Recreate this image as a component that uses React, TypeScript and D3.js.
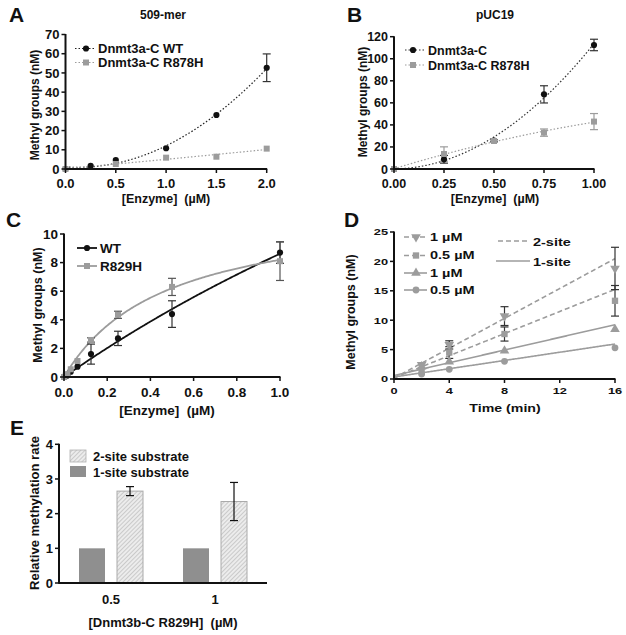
import React from "react";
import * as d3 from "d3";

const FONT = "'Liberation Sans', Arial, Helvetica, sans-serif";
const BLACK = "#111111";
const GRAY = "#9c9c9c";
const DGRAY = "#8f8f8f";

// ---------- Panel A: 509-mer ----------
const aWT_x = [0, 0.25, 0.5, 1.0, 1.5, 2.0];
const aWT_y = [0, 1.7, 4.7, 10.8, 28.1, 52.7];
const aWT_e = [0, 0, 0, 0, 0, 7.2];
const aR_x = [0, 0.5, 1.0, 1.5, 2.0];
const aR_y = [0, 2.6, 5.9, 6.4, 10.6];
const aR_e = [0, 0, 0, 0, 0];
const aXTicks = [0, 0.5, 1.0, 1.5, 2.0];
const aYTicks = [0, 10, 20, 30, 40, 50, 60, 70];

// ---------- Panel B: pUC19 ----------
const bX = [0, 0.25, 0.5, 0.75, 1.0];
const bWT_y = [0, 8.8, 25.7, 67.7, 112.5];
const bWT_e = [0, 3.5, 1, 7.8, 5.2];
const bR_y = [0, 13.6, 25.4, 33, 43];
const bR_e = [0, 6.5, 1, 3.3, 7.3];
const bXTicks = [0, 0.25, 0.5, 0.75, 1.0];
const bYTicks = [0, 20, 40, 60, 80, 100, 120];

// ---------- Panel C ----------
const cX = [0, 0.0078, 0.0156, 0.03125, 0.0625, 0.125, 0.25, 0.5, 1.0];
const cWT_y = [0, 0.05, 0.1, 0.37, 0.72, 1.6, 2.7, 4.4, 8.7];
const cWT_e = [0, 0, 0, 0, 0, 0.7, 0.5, 0.93, 0.75];
const cR_y = [0, 0.1, 0.2, 0.54, 1.12, 2.59, 4.35, 6.3, 8.1];
const cR_e = [0, 0, 0, 0, 0, 0.15, 0.25, 0.6, 1.35];
const cXTicks = [0, 0.2, 0.4, 0.6, 0.8, 1.0];
const cYTicks = [0, 2, 4, 6, 8, 10];

// ---------- Panel D ----------
const dX = [2, 4, 8, 16];
const d2s1_y = [2.4, 5.8, 10.7, 18.8];
const d2s1_e = [0, 0.7, 1.6, 3.6];
const d2s05_y = [1.25, 4.5, 7.65, 13.3];
const d2s05_e = [0, 1.0, 1.2, 2.6];
const d1s1_y = [2.1, 2.95, 4.8, 8.45];
const d1s1_e = [0, 0, 0, 0];
const d1s05_y = [0.85, 1.65, 3.0, 5.3];
const d1s05_e = [0, 0, 0, 0];
// fitted lines: [intercept, slope]
const d2s1_fit = [0.15, 1.27];
const d2s05_fit = [0.2, 0.94];
const d1s1_fit = [0.6, 0.54];
const d1s05_fit = [0.35, 0.35];
const dXTicks = [0, 4, 8, 12, 16];
const dYTicks = [0, 5, 10, 15, 20, 25];

// ---------- Panel E ----------
const eGroups = ["0.5", "1"];
const eSubs = ["1-site", "2-site"];
const eOne = [1, 1];
const eTwo = [2.65, 2.35];
const eTwoErr = [0.13, 0.55];
const eYTicks = [0, 1, 2, 3, 4];

// ---------- fitting helpers ----------
function polyfit2(xs: number[], ys: number[]) {
  const S = (f: (x: number, y: number) => number) => d3.sum(xs.map((x, i) => f(x, ys[i])));
  const n = xs.length;
  const s1 = S((x) => x), s2 = S((x) => x * x), s3 = S((x) => x ** 3), s4 = S((x) => x ** 4);
  const t0 = S((_, y) => y), t1 = S((x, y) => x * y), t2 = S((x, y) => x * x * y);
  const M = [
    [n, s1, s2, t0],
    [s1, s2, s3, t1],
    [s2, s3, s4, t2],
  ];
  for (let i = 0; i < 3; i++) {
    let p = i;
    for (let r = i + 1; r < 3; r++) if (Math.abs(M[r][i]) > Math.abs(M[p][i])) p = r;
    [M[i], M[p]] = [M[p], M[i]];
    for (let r = 0; r < 3; r++) {
      if (r === i) continue;
      const f = M[r][i] / M[i][i];
      for (let c = i; c < 4; c++) M[r][c] -= f * M[i][c];
    }
  }
  const c0 = M[0][3] / M[0][0], c1 = M[1][3] / M[1][1], c2 = M[2][3] / M[2][2];
  return (x: number) => c0 + c1 * x + c2 * x * x;
}

function hyperfit(xs: number[], ys: number[]) {
  let best = { K: 1, V: 1, sse: Infinity };
  for (let K = 0.01; K <= 30; K += 0.005) {
    const f = xs.map((x) => x / (K + x));
    const V = d3.sum(f.map((v, i) => v * ys[i])) / d3.sum(f.map((v) => v * v));
    const sse = d3.sum(f.map((v, i) => (V * v - ys[i]) ** 2));
    if (sse < best.sse) best = { K, V, sse };
  }
  return (x: number) => (best.V * x) / (best.K + x);
}

const linFit = (p: number[]) => (x: number) => p[0] + p[1] * x;

// ---------- drawing helpers ----------
type Series = {
  xs: number[];
  ys: number[];
  es: number[];
  color: string;
  errColor: string;
  shape: d3.SymbolType;
  size: number;
  fit: (x: number) => number;
  fitDash: string;
  fitColor: string;
  fitWidth: number;
  label: string;
};

const symPath = (t: d3.SymbolType, s: number) => d3.symbol().type(t).size(s)() as string;

type Txt = { x: number; y: number; text: string; size: number; anchor?: string; sx?: number; rotate?: boolean; weight?: string };
function T({ x, y, text, size, anchor = "start", sx = 1, rotate = false, weight = "bold" }: Txt) {
  const tr = `translate(${x},${y})${rotate ? " rotate(-90)" : ""} scale(${sx},1)`;
  return (
    <text transform={tr} fontSize={size} fontFamily={FONT} fontWeight={weight} textAnchor={anchor as any} fill={BLACK} style={{ whiteSpace: "pre" }}>
      {text}
    </text>
  );
}

type PanelProps = {
  letter: string;
  letterX: number;
  letterY: number;
  title?: string;
  titleX?: number;
  titleY?: number;
  left: number;
  right: number;
  top: number;
  bottom: number;
  xDomain: [number, number];
  yDomain: [number, number];
  xTicks: number[];
  yTicks: number[];
  xFmt: (v: number) => string;
  yFmt: (v: number) => string;
  tickFont: number;
  tickSx?: number;
  xLabelDy: number;
  xTitle: string;
  xTitleX: number;
  xTitleY: number;
  xTitleSize: number;
  yTitle: string;
  yTitleX: number;
  yTitleY: number;
  yTitleSize: number;
  series: Series[];
  legend: { x0: number; x1: number; mx: number; tx: number; ys: number[]; size: number; sx?: number; lineFor: boolean[] };
  extra?: React.ReactNode;
};

function XYPanel(p: PanelProps) {
  const xs = d3.scaleLinear().domain(p.xDomain).range([p.left, p.right]);
  const ys = d3.scaleLinear().domain(p.yDomain).range([p.bottom, p.top]);
  const tl = 4;
  return (
    <g>
      <text x={p.letterX} y={p.letterY} fontSize={21} fontFamily={FONT} fontWeight="bold" fill={BLACK}>
        {p.letter}
      </text>
      {p.title && <T x={p.titleX!} y={p.titleY!} text={p.title} size={12} anchor="middle" />}
      {/* fits */}
      {p.series.map((s, i) => {
        const pts = d3.range(0, 201).map((k) => p.xDomain[0] + ((p.xDomain[1] - p.xDomain[0]) * k) / 200);
        const path = d3
          .line<number>()
          .x((d) => xs(d))
          .y((d) => ys(s.fit(d)))(pts) as string;
        return (
          <path key={"f" + i} d={path} fill="none" stroke={s.fitColor} strokeWidth={s.fitWidth} strokeDasharray={s.fitDash} />
        );
      })}
      {/* error bars */}
      {p.series.map((s, i) =>
        s.xs.map((x, j) =>
          s.es[j] > 0 ? (
            <g key={`e${i}-${j}`} stroke={s.errColor} strokeWidth={1.2}>
              <line x1={xs(x)} x2={xs(x)} y1={ys(s.ys[j] - s.es[j])} y2={ys(s.ys[j] + s.es[j])} />
              <line x1={xs(x) - 4} x2={xs(x) + 4} y1={ys(s.ys[j] + s.es[j])} y2={ys(s.ys[j] + s.es[j])} />
              <line x1={xs(x) - 4} x2={xs(x) + 4} y1={ys(s.ys[j] - s.es[j])} y2={ys(s.ys[j] - s.es[j])} />
            </g>
          ) : null
        )
      )}
      {/* markers */}
      {p.series.map((s, i) =>
        s.xs.map((x, j) => (
          <path key={`m${i}-${j}`} d={symPath(s.shape, s.size)} transform={`translate(${xs(x)},${ys(s.ys[j])})`} fill={s.color} />
        ))
      )}
      {/* axes */}
      <line x1={p.left} x2={p.left} y1={p.bottom + 0.5} y2={p.top - 0.5} stroke={BLACK} strokeWidth={2} />
      <line x1={p.left - 0.5} x2={p.right + 0.5} y1={p.bottom} y2={p.bottom} stroke={BLACK} strokeWidth={2} />
      {p.yTicks.map((v) => (
        <g key={"yt" + v}>
          <line x1={p.left - tl} x2={p.left} y1={ys(v)} y2={ys(v)} stroke={BLACK} strokeWidth={1.5} />
          <T x={p.left - tl - 2} y={ys(v) + p.tickFont * 0.36} text={p.yFmt(v)} size={p.tickFont} anchor="end" sx={p.tickSx ?? 1} />
        </g>
      ))}
      {p.xTicks.map((v) => (
        <g key={"xt" + v}>
          <line x1={xs(v)} x2={xs(v)} y1={p.bottom} y2={p.bottom + tl} stroke={BLACK} strokeWidth={1.5} />
          <T x={xs(v)} y={p.bottom + p.xLabelDy} text={p.xFmt(v)} size={p.tickFont} anchor="middle" sx={p.tickSx ?? 1} />
        </g>
      ))}
      <T x={p.xTitleX} y={p.xTitleY} text={p.xTitle} size={p.xTitleSize} anchor="middle" sx={p.tickSx ?? 1} />
      <T x={p.yTitleX} y={p.yTitleY} text={p.yTitle} size={p.yTitleSize} anchor="middle" rotate />
      {/* legend */}
      {p.series.map((s, i) => (
        <g key={"lg" + i}>
          {p.legend.lineFor[i] && (
            <line
              x1={p.legend.x0}
              x2={p.legend.x1}
              y1={p.legend.ys[i]}
              y2={p.legend.ys[i]}
              stroke={s.fitColor}
              strokeWidth={s.fitWidth}
              strokeDasharray={s.fitDash}
            />
          )}
          <path d={symPath(s.shape, s.size)} transform={`translate(${p.legend.mx},${p.legend.ys[i]})`} fill={s.color} />
          <T x={p.legend.tx} y={p.legend.ys[i] + p.legend.size * 0.36} text={s.label} size={p.legend.size} sx={p.legend.sx ?? 1} />
        </g>
      ))}
      {p.extra}
    </g>
  );
}

const fmt1 = d3.format(".1f");
const fmt2 = d3.format(".2f");
const fmt0 = d3.format("d");

const MU = "\u00B5";
const NB = "\u00A0";

function PanelE() {
  const left = 59, right = 267, bottom = 583, top = 444.3;
  const y = d3.scaleLinear().domain([0, 4]).range([bottom, top]);
  const xg = d3.scaleBand<string>().domain(eGroups).range([left, right]).padding(0);
  const xs = d3.scaleBand<string>().domain(eSubs).range([0, xg.bandwidth()]).paddingInner(0.316).paddingOuter(0.526);
  const bw = xs.bandwidth();
  return (
    <g>
      <defs>
        <pattern id="hatch" width="3" height="3" patternUnits="userSpaceOnUse" patternTransform="rotate(45)">
          <rect width="3" height="3" fill="#ececec" />
          <line x1="0" y1="0" x2="0" y2="3" stroke="#b4b4b4" strokeWidth="1.2" />
        </pattern>
      </defs>
      <text x={10} y={435} fontSize={21} fontFamily={FONT} fontWeight="bold" fill={BLACK}>
        E
      </text>
      {eGroups.map((g, i) => {
        const gx = xg(g)!;
        const x1 = gx + xs("1-site")!;
        const x2 = gx + xs("2-site")!;
        const cx2 = x2 + bw / 2;
        return (
          <g key={g}>
            <rect x={x1} y={y(eOne[i])} width={bw} height={bottom - y(eOne[i])} fill={DGRAY} />
            <rect x={x2} y={y(eTwo[i])} width={bw} height={bottom - y(eTwo[i])} fill="url(#hatch)" stroke="#aaaaaa" strokeWidth={1} />
            <g stroke={BLACK} strokeWidth={1.2}>
              <line x1={cx2} x2={cx2} y1={y(eTwo[i] - eTwoErr[i])} y2={y(eTwo[i] + eTwoErr[i])} />
              <line x1={cx2 - 4} x2={cx2 + 4} y1={y(eTwo[i] + eTwoErr[i])} y2={y(eTwo[i] + eTwoErr[i])} />
              <line x1={cx2 - 4} x2={cx2 + 4} y1={y(eTwo[i] - eTwoErr[i])} y2={y(eTwo[i] - eTwoErr[i])} />
            </g>
            <T x={gx + xg.bandwidth() / 2} y={604} text={g} size={13} anchor="middle" />
          </g>
        );
      })}
      <line x1={left} x2={left} y1={bottom + 0.5} y2={top - 0.5} stroke={BLACK} strokeWidth={2} />
      <line x1={left - 0.5} x2={right} y1={bottom} y2={bottom} stroke={BLACK} strokeWidth={2} />
      {eYTicks.map((v) => (
        <g key={v}>
          <line x1={left - 4} x2={left} y1={y(v)} y2={y(v)} stroke={BLACK} strokeWidth={1.5} />
          <T x={left - 6} y={y(v) + 4.7} text={fmt0(v)} size={13} anchor="end" />
        </g>
      ))}
      <T x={39} y={513} text="Relative methylation rate" size={13} anchor="middle" rotate />
      <T x={163} y={627} text={`[Dnmt3b-C R829H]${NB}${NB}(${MU}M)`} size={13} anchor="middle" />
      <rect x={70} y={450} width={16} height={12} fill="url(#hatch)" stroke="#b0b0b0" strokeWidth={0.8} />
      <rect x={70} y={466} width={16} height={11} fill={DGRAY} />
      <T x={93} y={460.5} text="2-site substrate" size={13} />
      <T x={93} y={476.5} text="1-site substrate" size={13} />
    </g>
  );
}

export default function App() {
  const aSeries: Series[] = [
    {
      xs: aWT_x, ys: aWT_y, es: aWT_e, color: BLACK, errColor: "#333", shape: d3.symbolCircle, size: 30,
      fit: polyfit2(aWT_x, aWT_y), fitDash: "1.5,2", fitColor: "#222", fitWidth: 1.2, label: "Dnmt3a-C WT",
    },
    {
      xs: aR_x, ys: aR_y, es: aR_e, color: GRAY, errColor: GRAY, shape: d3.symbolSquare, size: 36,
      fit: polyfit2(aR_x, aR_y), fitDash: "1.5,2", fitColor: GRAY, fitWidth: 1.2, label: "Dnmt3a-C R878H",
    },
  ];
  const bSeries: Series[] = [
    {
      xs: bX, ys: bWT_y, es: bWT_e, color: BLACK, errColor: "#333", shape: d3.symbolCircle, size: 30,
      fit: polyfit2(bX, bWT_y), fitDash: "1.5,2", fitColor: "#333", fitWidth: 1.2, label: "Dnmt3a-C",
    },
    {
      xs: bX, ys: bR_y, es: bR_e, color: GRAY, errColor: GRAY, shape: d3.symbolSquare, size: 36,
      fit: polyfit2(bX, bR_y), fitDash: "1.5,2", fitColor: GRAY, fitWidth: 1.2, label: "Dnmt3a-C R878H",
    },
  ];
  const cSeries: Series[] = [
    {
      xs: cX, ys: cWT_y, es: cWT_e, color: BLACK, errColor: "#333", shape: d3.symbolCircle, size: 30,
      fit: hyperfit(cX, cWT_y), fitDash: "none", fitColor: BLACK, fitWidth: 1.8, label: "WT",
    },
    {
      xs: cX, ys: cR_y, es: cR_e, color: GRAY, errColor: "#555", shape: d3.symbolSquare, size: 36,
      fit: hyperfit(cX, cR_y), fitDash: "none", fitColor: GRAY, fitWidth: 1.8, label: "R829H",
    },
  ];
  const dSeries: Series[] = [
    {
      xs: dX, ys: d2s1_y, es: d2s1_e, color: GRAY, errColor: "#333", shape: d3.symbolTriangle, size: 40,
      fit: linFit(d2s1_fit), fitDash: "5,3", fitColor: GRAY, fitWidth: 1.6, label: `1 ${MU}M`,
    },
    {
      xs: dX, ys: d2s05_y, es: d2s05_e, color: GRAY, errColor: "#333", shape: d3.symbolSquare, size: 40,
      fit: linFit(d2s05_fit), fitDash: "5,3", fitColor: GRAY, fitWidth: 1.6, label: `0.5 ${MU}M`,
    },
    {
      xs: dX, ys: d1s1_y, es: d1s1_e, color: GRAY, errColor: "#333", shape: d3.symbolTriangle, size: 40,
      fit: linFit(d1s1_fit), fitDash: "none", fitColor: GRAY, fitWidth: 1.6, label: `1 ${MU}M`,
    },
    {
      xs: dX, ys: d1s05_y, es: d1s05_e, color: GRAY, errColor: "#333", shape: d3.symbolCircle, size: 36,
      fit: linFit(d1s05_fit), fitDash: "none", fitColor: GRAY, fitWidth: 1.6, label: `0.5 ${MU}M`,
    },
  ];
  // the first D series uses a downward triangle
  const downTri = {
    draw(ctx: any, size: number) {
      const s = Math.sqrt(size / (Math.sqrt(3) / 4));
      const h = (s * Math.sqrt(3)) / 2;
      ctx.moveTo(-s / 2, -h / 3);
      ctx.lineTo(s / 2, -h / 3);
      ctx.lineTo(0, (2 * h) / 3);
      ctx.closePath();
    },
  };
  dSeries[0].shape = downTri as any;

  const enz = `[Enzyme]${NB}${NB}(${MU}M)`;
  const mg = "Methyl groups (nM)";

  return (
    <svg width={626} height={635} style={{ position: "absolute", left: 0, top: 0, background: "#fff" }}>
      <rect width={626} height={635} fill="#fff" />
      <XYPanel
        letter="A" letterX={9} letterY={22} title="509-mer" titleX={163} titleY={19}
        left={65.5} right={266.7} top={34.5} bottom={169}
        xDomain={[0, 2]} yDomain={[0, 70]} xTicks={aXTicks} yTicks={aYTicks}
        xFmt={fmt1} yFmt={fmt0} tickFont={13} xLabelDy={18.5}
        xTitle={enz} xTitleX={166} xTitleY={203} xTitleSize={12.5}
        yTitle={mg} yTitleX={39} yTitleY={105} yTitleSize={12}
        series={aSeries}
        legend={{ x0: 75, x1: 96, mx: 86, tx: 98, ys: [48.5, 62.5], size: 13, lineFor: [true, true] }}
      />
      <XYPanel
        letter="B" letterX={347} letterY={22} title="pUC19" titleX={495} titleY={19}
        left={394} right={594} top={36.7} bottom={169}
        xDomain={[0, 1]} yDomain={[0, 120]} xTicks={bXTicks} yTicks={bYTicks}
        xFmt={fmt2} yFmt={fmt0} tickFont={12.5} xLabelDy={18.5}
        xTitle={enz} xTitleX={495} xTitleY={203} xTitleSize={12.5}
        yTitle={mg} yTitleX={367} yTitleY={102} yTitleSize={12}
        series={bSeries}
        legend={{ x0: 405, x1: 424, mx: 413, tx: 428, ys: [50, 65], size: 12.5, lineFor: [true, true] }}
      />
      <XYPanel
        letter="C" letterX={6} letterY={227}
        left={64} right={280} top={234} bottom={377}
        xDomain={[0, 1]} yDomain={[0, 10]} xTicks={cXTicks} yTicks={cYTicks}
        xFmt={fmt1} yFmt={fmt0} tickFont={13.5} xLabelDy={20}
        xTitle={enz} xTitleX={167} xTitleY={415} xTitleSize={13.5}
        yTitle={mg} yTitleX={42} yTitleY={305} yTitleSize={12.5}
        series={cSeries}
        legend={{ x0: 77, x1: 97, mx: 87, tx: 100, ys: [248, 266], size: 13.5, lineFor: [true, true] }}
      />
      <XYPanel
        letter="D" letterX={344} letterY={227}
        left={394} right={615} top={232} bottom={379}
        xDomain={[0, 16]} yDomain={[0, 25]} xTicks={dXTicks} yTicks={dYTicks}
        xFmt={fmt0} yFmt={fmt0} tickFont={9.5} tickSx={1.35} xLabelDy={15}
        xTitle="Time (min)" xTitleX={505} xTitleY={412} xTitleSize={10.5}
        yTitle={mg} yTitleX={355} yTitleY={312} yTitleSize={12.5}
        series={dSeries}
        legend={{ x0: 404, x1: 427, mx: 416, tx: 430, ys: [237, 255.5, 273, 290], size: 10.5, sx: 1.38, lineFor: [true, true, true, true] }}
        extra={
          <g>
            <line x1={498} x2={529} y1={241} y2={241} stroke={GRAY} strokeWidth={1.6} strokeDasharray="5,3" />
            <line x1={496} x2={530} y1={261} y2={261} stroke={GRAY} strokeWidth={1.6} />
            <T x={533} y={245.5} text="2-site" size={10.5} sx={1.38} />
            <T x={533} y={265.5} text="1-site" size={10.5} sx={1.38} />
          </g>
        }
      />
      <PanelE />
    </svg>
  );
}
